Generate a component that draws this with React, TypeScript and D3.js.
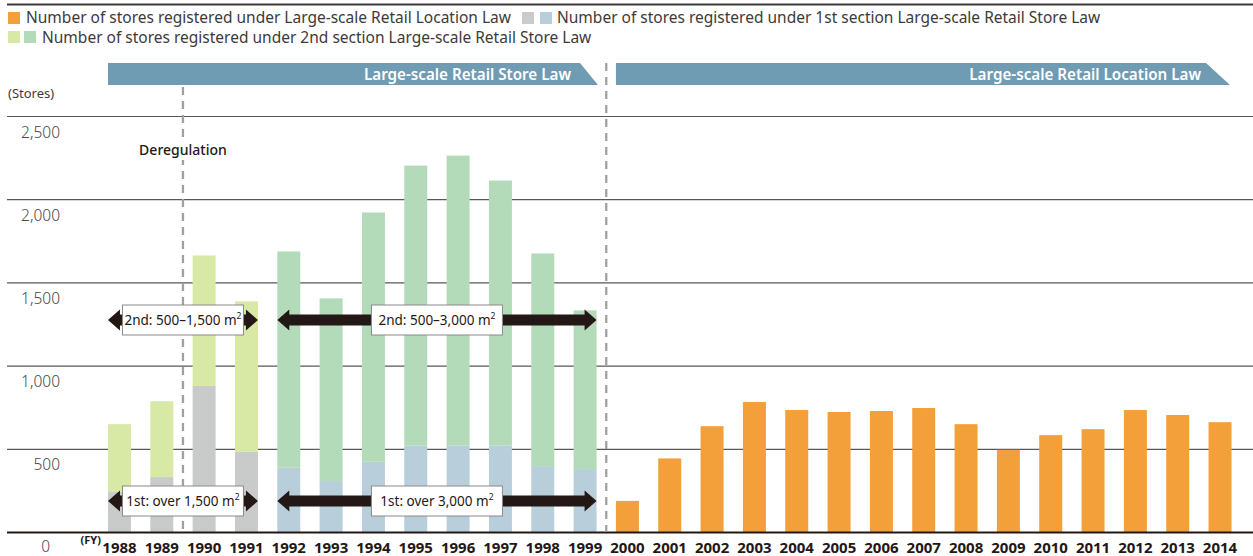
import React from "react";
import { scaleBand, scaleLinear } from "d3";

// fiscal years on the x axis
const years = [
  "1988", "1989", "1990", "1991", "1992", "1993", "1994", "1995", "1996",
  "1997", "1998", "1999", "2000", "2001", "2002", "2003", "2004", "2005",
  "2006", "2007", "2008", "2009", "2010", "2011", "2012", "2013", "2014",
];
// Large-scale Retail Store Law, 1988-1999
const storeLawYears = ["1988", "1989", "1990", "1991", "1992", "1993", "1994", "1995", "1996", "1997", "1998", "1999"];
const firstSection = [243, 333, 881, 485, 389, 309, 425, 523, 523, 523, 399, 381];
const secondSection = [408, 456, 784, 904, 1300, 1098, 1498, 1682, 1742, 1592, 1278, 954];
// Large-scale Retail Location Law, 2000-2014
const locationLawYears = ["2000", "2001", "2002", "2003", "2004", "2005", "2006", "2007", "2008", "2009", "2010", "2011", "2012", "2013", "2014"];
const locationLaw = [190, 445, 639, 784, 736, 724, 730, 748, 651, 497, 585, 621, 736, 706, 663];
// years before deregulation use the older colours
const oldRuleYears = ["1988", "1989", "1990", "1991"];
const yTicks = [0, 500, 1000, 1500, 2000, 2500];
const yTickLabels = ["0", "500", "1,000", "1,500", "2,000", "2,500"];

const ORANGE = "#F39F3A";
const GRAY = "#C9CACA";
const BLUE = "#B8CEDB";
const YGREEN = "#D8E8A5";
const GREEN = "#B3DBBA";
const BANNER = "#6F9CB2";
const INK = "#231815";
const FONT = "'Noto Sans', 'Open Sans', sans-serif";

const width = 1253;
const height = 556;

const arrowPath = (x0: number, x1: number, cy: number) => {
  const h = 12, hh = 10.5, sh = 5.5;
  return `M${x0},${cy} L${x0 + h},${cy - hh} L${x0 + h},${cy - sh} L${x1 - h},${cy - sh} L${x1 - h},${cy - hh} L${x1},${cy} L${x1 - h},${cy + hh} L${x1 - h},${cy + sh} L${x0 + h},${cy + sh} L${x0 + h},${cy + hh} Z`;
};

const App = () => {
  const xScale = scaleBand<string>()
    .domain(years)
    .range([98.3, 1241.2])
    .paddingInner(0.457)
    .paddingOuter(0.2285);
  const bw = xScale.bandwidth();
  const step = xScale.step();

  const yScale = scaleLinear().domain([0, 2500]).range([532.5, 116.5]);
  const y0 = yScale(0);

  const gapAfter = (yr: string) => (xScale(yr) as number) + bw + (step - bw) / 2;
  const deregX = gapAfter("1989");
  const lawX = gapAfter("1999");

  const start = (yr: string) => xScale(yr) as number;
  const end = (yr: string) => (xScale(yr) as number) + bw;

  const arrowRows = [
    { cy: 320, left: "2nd: 500–1,500 m", right: "2nd: 500–3,000 m" },
    { cy: 501, left: "1st: over 1,500 m", right: "1st: over 3,000 m" },
  ];

  return (
    <svg width={width} height={height} style={{ position: "absolute", left: 0, top: 0, fontFamily: FONT }}>
      <rect width={width} height={height} fill="#fff" />
      <line x1={7} x2={width} y1={4.5} y2={4.5} stroke="#3E3A39" strokeWidth={2} />

      {/* legend */}
      <g fontSize={15.5} fill="#3E3A39">
        <rect x={8} y={12} width={12} height={12} fill={ORANGE} />
        <text x={26} y={23}>Number of stores registered under Large-scale Retail Location Law</text>
        <rect x={522} y={12} width={12} height={12} fill={GRAY} />
        <rect x={540} y={12} width={12} height={12} fill={BLUE} />
        <text x={557} y={23}>Number of stores registered under 1st section Large-scale Retail Store Law</text>
        <rect x={8} y={31} width={12} height={12} fill={YGREEN} />
        <rect x={24} y={31} width={12} height={12} fill={GREEN} />
        <text x={42} y={42.5}>Number of stores registered under 2nd section Large-scale Retail Store Law</text>
      </g>

      {/* banners */}
      <path d={`M${start("1988")},63 L580,63 L598,85 L${start("1988")},85 Z`} fill={BANNER} />
      <text x={571} y={79.5} textAnchor="end" fill="#fff" fontSize={15.2} fontWeight={600}>Large-scale Retail Store Law</text>
      <path d={`M${start("2000")},63 L1206,63 L1230,85 L${start("2000")},85 Z`} fill={BANNER} />
      <text x={1201} y={79.5} textAnchor="end" fill="#fff" fontSize={15.2} fontWeight={600}>Large-scale Retail Location Law</text>

      <text x={8} y={98} fontSize={13} fill="#3E3A39">(Stores)</text>

      {/* gridlines and y labels */}
      {yTicks.map((t, i) => (
        <g key={t}>
          {t > 0 && <line x1={7} x2={width} y1={yScale(t)} y2={yScale(t)} stroke="#595757" strokeWidth={1.2} />}
          <text
            x={t === 0 ? 50 : 60}
            y={t === 0 ? 552 : yScale(t) + 21}
            textAnchor="end"
            fontSize={15.5}
            fill="#4A4646"
            fontWeight={300}
          >
            {yTickLabels[i]}
          </text>
        </g>
      ))}

      {/* stacked bars, store law */}
      {storeLawYears.map((yr, i) => {
        const old = oldRuleYears.includes(yr);
        const a = firstSection[i];
        const b = secondSection[i];
        return (
          <g key={yr}>
            <rect x={xScale(yr)} y={yScale(a)} width={bw} height={y0 - yScale(a)} fill={old ? GRAY : BLUE} />
            <rect x={xScale(yr)} y={yScale(a + b)} width={bw} height={yScale(a) - yScale(a + b)} fill={old ? YGREEN : GREEN} />
          </g>
        );
      })}

      {/* location law bars */}
      {locationLawYears.map((yr, i) => (
        <rect key={yr} x={xScale(yr)} y={yScale(locationLaw[i])} width={bw} height={y0 - yScale(locationLaw[i])} fill={ORANGE} />
      ))}

      <line x1={7} x2={width} y1={y0} y2={y0} stroke={INK} strokeWidth={2} />

      {/* dashed dividers */}
      <line x1={deregX} x2={deregX} y1={87} y2={y0 - 1} stroke="#9FA0A0" strokeWidth={2.3} strokeDasharray="8 6" />
      <line x1={lawX} x2={lawX} y1={63} y2={y0 - 1} stroke="#9FA0A0" strokeWidth={2.3} strokeDasharray="8 6" />
      <rect x={deregX - 46} y={140} width={92} height={20} fill="#fff" />
      <text x={deregX} y={155} textAnchor="middle" fontSize={14} fontWeight={500} fill={INK}>Deregulation</text>

      {/* range arrows */}
      {arrowRows.map((row) => {
        const lx0 = start("1988"), lx1 = end("1991");
        const rx0 = start("1992"), rx1 = end("1999");
        const lc = (lx0 + lx1) / 2, rc = (rx0 + rx1) / 2;
        return (
          <g key={row.cy}>
            <path d={arrowPath(lx0, lx1, row.cy)} fill={INK} />
            <path d={arrowPath(rx0, rx1, row.cy)} fill={INK} />
            <rect x={lc - 60.5} y={row.cy - 15} width={121} height={30} fill="#fff" stroke="#898989" strokeWidth={1} />
            <rect x={rc - 65.5} y={row.cy - 15} width={131} height={30} fill="#fff" stroke="#898989" strokeWidth={1} />
            <text x={lc} y={row.cy + 5} textAnchor="middle" fontSize={13.5} fill={INK}>
              {row.left}
              <tspan fontSize={8.5} dy={-6}>2</tspan>
            </text>
            <text x={rc} y={row.cy + 5} textAnchor="middle" fontSize={13.5} fill={INK}>
              {row.right}
              <tspan fontSize={8.5} dy={-6}>2</tspan>
            </text>
          </g>
        );
      })}

      {/* x labels */}
      <text x={start("1988") - 7} y={544} textAnchor="end" fontSize={11} fontWeight={700} fill={INK}>(FY)</text>
      {years.map((yr) => (
        <text key={yr} x={(xScale(yr) as number) + bw / 2} y={552.5} textAnchor="middle" fontSize={15} fontWeight={700} fill={INK}>
          {yr}
        </text>
      ))}
    </svg>
  );
};

export default App;
